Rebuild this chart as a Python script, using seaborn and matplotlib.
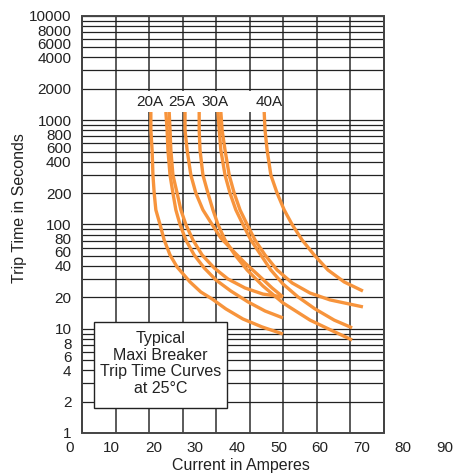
import numpy as np
import pandas as pd
import seaborn as sns
import matplotlib.pyplot as plt
from matplotlib.patches import Rectangle
from matplotlib.ticker import NullLocator
import matplotlib.transforms as mtransforms

# Trip curves: current (A) and trip time (s),
# a low and a high edge for each breaker rating
i20_lo = [19.4, 19.4, 19.7, 19.9, 20.2, 20.6, 21.6, 22.6, 24.0, 25.7, 28.8, 31.4, 34.1, 37.4, 41.5, 46.1, 51.1]
t20_lo = [1200, 806, 518, 298, 200, 138, 100, 71, 51, 39.1, 28.1, 22.5, 19.3, 15.5, 12.4, 10.4, 8.9]
i20_hi = [23.0, 23.3, 23.5, 24.0, 24.7, 25.4, 26.4, 27.8, 29.8, 32.2, 35.0, 38.6, 42.7, 46.8, 51.1]
t20_hi = [1200, 806, 518, 298, 200, 138, 100, 71, 51, 38.3, 29.4, 23.0, 18.1, 14.8, 12.7]
i25_lo = [23.8, 24.0, 24.2, 24.7, 25.7, 26.6, 27.8, 29.5, 31.7, 34.6, 37.9, 42.0, 46.3, 51.1]
t25_lo = [1200, 806, 518, 298, 200, 138, 100, 71, 51, 38.3, 30.0, 24.6, 21.5, 20.2]
i25_hi = [27.6, 27.6, 28.1, 29.0, 30.2, 31.9, 34.1, 36.2, 38.9, 42.0, 45.4, 48.5, 51.1]
t25_hi = [1200, 806, 518, 298, 200, 138, 100, 74.2, 57, 42.7, 32.1, 24.6, 20.2]
i30_lo = [31.0, 31.0, 31.2, 31.9, 33.1, 34.3, 35.5, 37.2, 39.6, 42.5, 46.3, 51.1, 57.6, 63.1, 67.7]
t30_lo = [1200, 806, 518, 298, 200, 138, 100, 71, 51, 36.6, 25.7, 17.7, 12.1, 9.5, 7.8]
i30_hi = [35.5, 35.8, 36.2, 37.2, 38.4, 39.8, 41.5, 43.4, 45.8, 48.2, 51.1, 54.7, 58.8, 63.4, 67.7]
t30_hi = [1200, 806, 518, 298, 200, 138, 100, 71, 51, 36.6, 26.9, 20.2, 15.5, 12.1, 10.2]
i40_lo = [36.2, 36.5, 37.2, 38.2, 39.4, 40.8, 42.5, 44.4, 46.8, 49.7, 53.3, 57.6, 62.4, 70.3]
t40_lo = [1200, 806, 518, 298, 200, 138, 100, 71, 51, 36.6, 27.5, 22.0, 18.9, 16.2]
i40_hi = [46.6, 46.8, 47.3, 48.2, 49.7, 51.4, 53.3, 55.7, 58.6, 61.9, 65.8, 70.3]
t40_hi = [1200, 806, 518, 298, 200, 138, 100, 71, 51, 36.6, 28.1, 23.0]

ratings = ["20A", "25A", "30A", "40A"]
rating_x = [19.2, 26.9, 34.8, 47.8]

x_ticks = [0, 10, 20, 30, 40, 50, 60, 70, 80, 90]
y_ticks = [1, 2, 4, 6, 8, 10, 20, 40, 60, 80, 100, 200, 400, 600, 800,
           1000, 2000, 4000, 6000, 8000, 10000]

curves = {
    "20A lo": (i20_lo, t20_lo), "20A hi": (i20_hi, t20_hi),
    "25A lo": (i25_lo, t25_lo), "25A hi": (i25_hi, t25_hi),
    "30A lo": (i30_lo, t30_lo), "30A hi": (i30_hi, t30_hi),
    "40A lo": (i40_lo, t40_lo), "40A hi": (i40_hi, t40_hi),
}
df = pd.concat([pd.DataFrame({"Current": i, "Time": t, "curve": k})
                for k, (i, t) in curves.items()], ignore_index=True)

sns.set_style("white")
plt.rcParams["font.family"] = ["Liberation Sans", "DejaVu Sans"]
ink = "#222222"
orange = "#F7943C"

fig = plt.figure(figsize=(4.64, 4.73), dpi=100)
ax = fig.add_axes([0.1509, 0.0846, 0.8082, 0.8816])
ax.set_yscale("log")
ax.set_xlim(0, 90)
ax.set_ylim(1, 10000)

# the printed grid only covers part of the labelled current range
x0, x1 = 2.88, 75.3
ax.vlines(np.linspace(x0, x1, 10), 1, 10000, color="#4d4d4d", lw=1.3, zorder=1)
hl = [m * 10 ** e for e in range(4) for m in range(1, 10)] + [10000]
ax.hlines(hl, x0, x1, color=ink, lw=0.9, zorder=1)
ax.add_patch(Rectangle((x0, 1), x1 - x0, 9999, fill=False, ec="#444444",
                       lw=1.4, zorder=2, clip_on=False))

sns.lineplot(data=df, x="Current", y="Time", units="curve", estimator=None,
             sort=False, color=orange, lw=2.4, ax=ax, zorder=3,
             solid_capstyle="butt")

for s in ax.spines.values():
    s.set_visible(False)
ax.set_xticks(x_ticks)
ax.set_yticks(y_ticks)
ax.set_yticklabels([str(v) for v in y_ticks])
ax.yaxis.set_minor_locator(NullLocator())
ax.tick_params(length=0, labelsize=11, colors=ink)
ax.tick_params(axis="x", pad=6)
ax.tick_params(axis="y", pad=-1)

# the 6s and 8s sit a little low on the original so they don't collide
nudge = mtransforms.ScaledTranslation(0, -3 / 72, fig.dpi_scale_trans)
for v, lab in zip(y_ticks, ax.get_yticklabels()):
    if str(v)[0] in "68":
        lab.set_transform(lab.get_transform() + nudge)

ax.set_xlabel("Current in Amperes", fontsize=11.5, color=ink)
ax.xaxis.set_label_coords(0.456, -0.06)
ax.set_ylabel("Trip Time in Seconds", fontsize=11.5, color=ink)
ax.yaxis.set_label_coords(-0.115, 0.54)

# rating labels on a white strip above the curves
ax.add_patch(Rectangle((0.176, 0.77), 0.349, 0.05, transform=ax.transAxes,
                       fc="white", ec="none", zorder=4))
trans = mtransforms.blended_transform_factory(ax.transData, ax.transAxes)
for name, xr in zip(ratings, rating_x):
    ax.text(xr, 0.793, name, transform=trans, ha="center", va="center",
            fontsize=11, color=ink, zorder=5)

ax.add_patch(Rectangle((0.064, 0.06), 0.355, 0.206, transform=ax.transAxes,
                       fc="white", ec=ink, lw=1.0, zorder=4))
ax.text(0.241, 0.1667, "Typical\nMaxi Breaker\nTrip Time Curves\nat 25\u00b0C",
        transform=ax.transAxes, ha="center", va="center", fontsize=11.5,
        linespacing=1.15, color=ink, zorder=5)

fig.savefig("out.png", dpi=100)
